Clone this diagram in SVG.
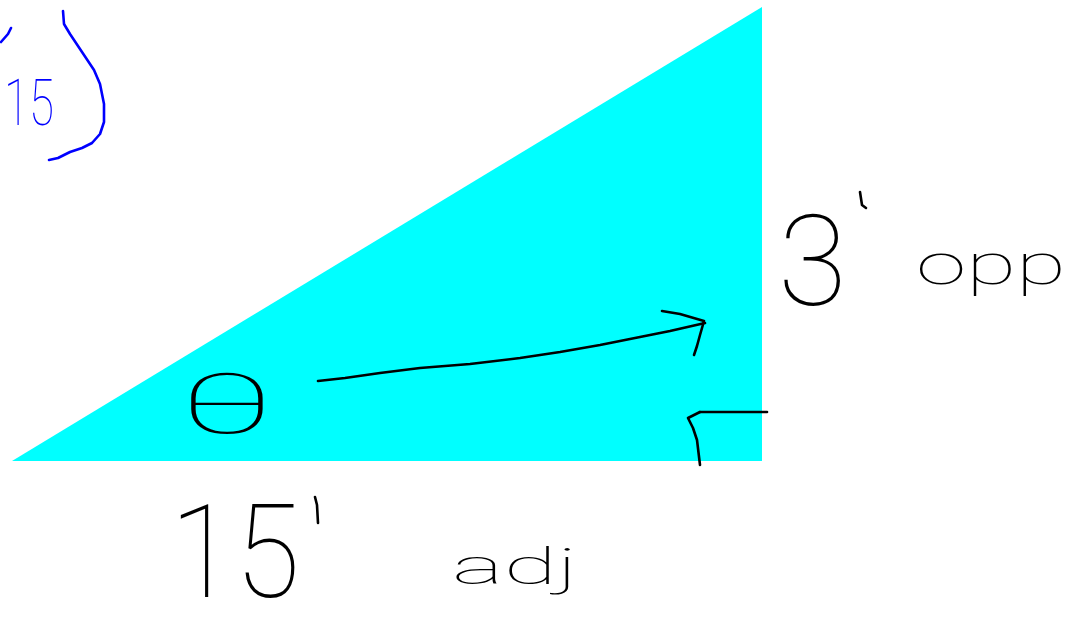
<svg xmlns="http://www.w3.org/2000/svg" width="1074" height="634" viewBox="0 0 1074 634">
<style>
.ink{fill:none;stroke:#000;stroke-width:2.6;stroke-linecap:round;stroke-linejoin:round}
.blue{fill:none;stroke:#0000ff;stroke-width:2.6;stroke-linecap:round;stroke-linejoin:round}
.hw{font-family:Roboto,"Liberation Sans",sans-serif;font-weight:100;fill:#000}
</style>
<rect width="1074" height="634" fill="#fff"/>
<g id="triangle">
<polygon points="12,461 762,7 762,461" fill="#00ffff"/>
</g>
<g id="note">
<path class="blue" d="M11,28 L8,34 L1,42"/>
<path class="blue" d="M63,11 L64,24 L70,34 L82,52 L94,70 L100,84 L104,104 L104,122 L100,134 L92,143 L82,148 L70,152 L58,158 L49,160"/>
<text x="4" y="125" class="hw" style="fill:#0000ff" font-size="64" textLength="50" lengthAdjust="spacingAndGlyphs">15</text>
</g>
<g id="labels">
<text x="778" y="305" class="hw" font-size="126">3</text>
<path class="ink" d="M860,192 L862,205 L866,208"/>
<text x="916" y="284" class="hw" font-size="58" textLength="150" lengthAdjust="spacingAndGlyphs">opp</text>
<text x="170" y="597" class="hw" font-size="130" textLength="130" lengthAdjust="spacingAndGlyphs">15</text>
<path class="ink" d="M315,497 L317,505 L318,523"/>
<text x="452" y="584" class="hw" font-size="50" textLength="126" lengthAdjust="spacingAndGlyphs">adj</text>
<text x="227" y="433" class="hw" font-size="84" text-anchor="middle" transform="translate(227 0) scale(2 1) translate(-227 0)">θ</text>
</g>
<g id="connectors">
<path class="ink" d="M318,381 L345,378 L380,373 L420,368 L470,364 L520,358 L560,352 L600,345 L640,337 L670,331 L705,323"/>
<path class="ink" d="M662,311 L680,314 L704,321 L700,335 L697,346 L694,355"/>
<path class="ink" d="M700,412 L767,412"/>
<path class="ink" d="M700,412 L688,418 L693,428 L697,440 L700,465"/>
</g>
</svg>
